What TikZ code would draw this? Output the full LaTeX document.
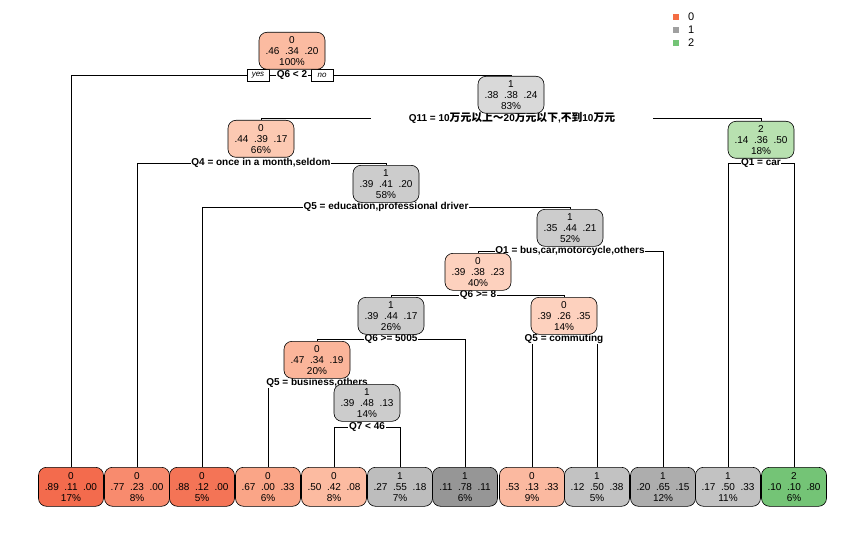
\documentclass[tikz,border=0pt]{standalone}
\usepackage{fontspec}
\setmainfont{Liberation Sans}
\newfontfamily\cjk{Noto Sans CJK SC}[Scale=1.08]
\pgfdeclarelayer{bg}
\pgfsetlayers{bg,main}
\definecolor{cA}{HTML}{FBBBA1}
\definecolor{cB}{HTML}{FCC9B2}
\definecolor{cC}{HTML}{FDD1BE}
\definecolor{cD}{HTML}{FBB59A}
\definecolor{gA}{HTML}{D9D9D9}
\definecolor{gB}{HTML}{CCCCCC}
\definecolor{vA}{HTML}{B8E1B0}
\definecolor{l1}{HTML}{F36B4D}
\definecolor{l2}{HTML}{F88B6E}
\definecolor{l3}{HTML}{F47456}
\definecolor{l4}{HTML}{FAA587}
\definecolor{l5}{HTML}{FCBBA1}
\definecolor{l8}{HTML}{FBB9A0}
\definecolor{m6}{HTML}{BDBDBD}
\definecolor{m7}{HTML}{969696}
\definecolor{m9}{HTML}{C2C2C2}
\definecolor{m10}{HTML}{ADADAD}
\definecolor{v12}{HTML}{74C476}
\definecolor{leg0}{HTML}{F46D43}
\definecolor{leg1}{HTML}{A0A0A0}
\definecolor{leg2}{HTML}{74C476}
\tikzset{
  tnode/.style={draw=black, line width=0.6pt, rounded corners=8pt, anchor=north,
    minimum width=66pt, minimum height=37pt, inner sep=0pt, align=center,
    font=\fontsize{10}{11}\selectfont},
  leaf/.style={tnode, minimum width=65pt, minimum height=39pt},
  split/.style={fill=white, inner sep=0.6pt, font=\bfseries\fontsize{10}{11}\selectfont},
  yn/.style={draw=black, fill=white, line width=0.5pt, inner sep=0pt, minimum width=22pt,
    minimum height=12pt, font=\itshape\fontsize{8}{9}\selectfont},
  edge/.style={draw=black, line width=0.6pt},
  legtext/.style={font=\fontsize{11}{12}\selectfont, anchor=west, inner sep=0pt}
}
\newcommand{\pr}[3]{#1\ \ #2\ \ #3}
\begin{document}
\begin{tikzpicture}[x=1pt,y=-1pt]
\useasboundingbox (0,0) rectangle (866,540);
% legend
\fill[leg0] (673,14) rectangle (679,20);
\fill[leg1] (673,27) rectangle (679,33);
\fill[leg2] (673,40) rectangle (679,46);
\node[legtext] (lg0) at (688,17) {0};
\node[legtext] (lg1) at (688,30) {1};
\node[legtext] (lg2) at (688,43) {2};
% split labels
\node[split] (sroot) at (292,75) {Q6 < 2};
\node[split, minimum width=282pt, minimum height=11pt] (s83) at (512,118) {Q11 = 10{\cjk 万元以上～}20{\cjk 万元以下},{\cjk 不到}10{\cjk 万元}};
\node[split] (s66) at (261,163) {Q4 = once in a month,seldom};
\node[split] (s18) at (761,163) {Q1 = car};
\node[split] (s58) at (386,207) {Q5 = education,professional driver};
\node[split] (s52) at (570,251) {Q1 = bus,car,motorcycle,others};
\node[split] (s40) at (478,295) {Q6 >= 8};
\node[split] (s26) at (391,339) {Q6 >= 5005};
\node[split] (s14a) at (564,339) {Q5 = commuting};
\node[split] (s20) at (317,383) {Q5 = business,others};
\node[split] (s14b) at (367,427) {Q7 < 46};
\node[yn] (yes) at (258,75) {yes};
\node[yn] (no) at (322,75) {no};
% internal nodes
\node[tnode, fill=cA] (root) at (292,32) {0\\\pr{.46}{.34}{.20}\\100\%};
\node[tnode, fill=gA] (n83) at (511,76) {1\\\pr{.38}{.38}{.24}\\83\%};
\node[tnode, fill=cB] (n66) at (261,120) {0\\\pr{.44}{.39}{.17}\\66\%};
\node[tnode, fill=vA] (n18) at (761,121) {2\\\pr{.14}{.36}{.50}\\18\%};
\node[tnode, fill=gB] (n58) at (386,165) {1\\\pr{.39}{.41}{.20}\\58\%};
\node[tnode, fill=gB] (n52) at (570,209) {1\\\pr{.35}{.44}{.21}\\52\%};
\node[tnode, fill=cC] (n40) at (478,253) {0\\\pr{.39}{.38}{.23}\\40\%};
\node[tnode, fill=gB] (n26) at (391,297) {1\\\pr{.39}{.44}{.17}\\26\%};
\node[tnode, fill=cC] (n14a) at (564,297) {0\\\pr{.39}{.26}{.35}\\14\%};
\node[tnode, fill=cD] (n20) at (317,341) {0\\\pr{.47}{.34}{.19}\\20\%};
\node[tnode, fill=gB] (n14b) at (367,384) {1\\\pr{.39}{.48}{.13}\\14\%};
% leaves
\node[leaf, fill=l1] (f1) at (71,467) {0\\\pr{.89}{.11}{.00}\\17\%};
\node[leaf, fill=l2] (f2) at (137,467) {0\\\pr{.77}{.23}{.00}\\8\%};
\node[leaf, fill=l3] (f3) at (202,467) {0\\\pr{.88}{.12}{.00}\\5\%};
\node[leaf, fill=l4] (f4) at (268,467) {0\\\pr{.67}{.00}{.33}\\6\%};
\node[leaf, fill=l5] (f5) at (334,467) {0\\\pr{.50}{.42}{.08}\\8\%};
\node[leaf, fill=m6] (f6) at (400,467) {1\\\pr{.27}{.55}{.18}\\7\%};
\node[leaf, fill=m7] (f7) at (465,467) {1\\\pr{.11}{.78}{.11}\\6\%};
\node[leaf, fill=l8] (f8) at (532,467) {0\\\pr{.53}{.13}{.33}\\9\%};
\node[leaf, fill=m9] (f9) at (597,467) {1\\\pr{.12}{.50}{.38}\\5\%};
\node[leaf, fill=m10] (f10) at (663,467) {1\\\pr{.20}{.65}{.15}\\12\%};
\node[leaf, fill=m9] (f11) at (728,467) {1\\\pr{.17}{.50}{.33}\\11\%};
\node[leaf, fill=v12] (f12) at (794,467) {2\\\pr{.10}{.10}{.80}\\6\%};
% connectors
\begin{pgfonlayer}{bg}
\draw[edge] (sroot.center) -| (f1.north);
\draw[edge] (sroot.center) -| (n83.north);
\draw[edge] (s83.center) -| (n66.north);
\draw[edge] (s83.center) -| (n18.north);
\draw[edge] (s66.center) -| (f2.north);
\draw[edge] (s66.center) -| (n58.north);
\draw[edge] (s18.center) -| (f11.north);
\draw[edge] (s18.center) -| (f12.north);
\draw[edge] (s58.center) -| (f3.north);
\draw[edge] (s58.center) -| (n52.north);
\draw[edge] (s52.center) -| (n40.north);
\draw[edge] (s52.center) -| (f10.north);
\draw[edge] (s40.center) -| (n26.north);
\draw[edge] (s40.center) -| (n14a.north);
\draw[edge] (s26.center) -| (n20.north);
\draw[edge] (s26.center) -| (f7.north);
\draw[edge] (s14a.center) -| (f8.north);
\draw[edge] (s14a.center) -| (f9.north);
\draw[edge] (s20.center) -| (f4.north);
\draw[edge] (s20.center) -| (n14b.north);
\draw[edge] (s14b.center) -| (f5.north);
\draw[edge] (s14b.center) -| (f6.north);
\end{pgfonlayer}
\end{tikzpicture}
\end{document}
